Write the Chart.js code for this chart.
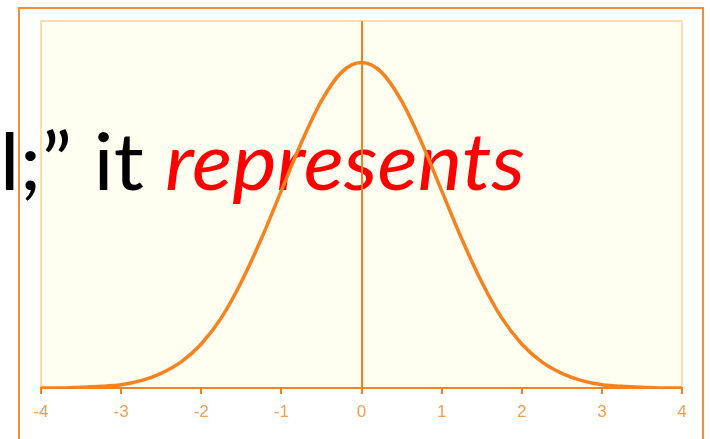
<!DOCTYPE html>
<html>
<head>
<meta charset="utf-8">
<style>
  html, body { margin: 0; padding: 0; background: #fff; }
</style>
</head>
<body>
<canvas id="myChart" width="710" height="439"></canvas>
<script src="https://cdn.jsdelivr.net/npm/chart.js@4/dist/chart.umd.min.js"></script>
<script>
// bell curve samples, read every quarter unit
const zValues = [-4, -3.75, -3.5, -3.25, -3, -2.75, -2.5, -2.25, -2, -1.75, -1.5, -1.25, -1, -0.75, -0.5, -0.25,
                 0, 0.25, 0.5, 0.75, 1, 1.25, 1.5, 1.75, 2, 2.25, 2.5, 2.75, 3, 3.25, 3.5, 3.75, 4];
const density = [0.000, 0.000, 0.001, 0.002, 0.004, 0.009, 0.018, 0.032, 0.054, 0.086, 0.130, 0.183, 0.242, 0.301, 0.352, 0.387,
                 0.399, 0.387, 0.352, 0.301, 0.242, 0.183, 0.130, 0.086, 0.054, 0.032, 0.018, 0.009, 0.004, 0.002, 0.001, 0.000, 0.000];
const xTicks = [-4, -3, -2, -1, 0, 1, 2, 3, 4];
const captionPlain = 'l;\u201D it';
const captionEmph = 'represents';

const orange = '#f5821f';
const lightOrange = '#f59d4e';
const paleBorder = '#ffdcac';
const plotBg = '#fffef0';

const ctx = document.getElementById('myChart').getContext('2d');

// stretch a piece of text so its ink spans exactly left..right
function drawFitted(c, text, font, color, left, right, baseline) {
  c.save();
  c.font = font;
  c.textBaseline = 'alphabetic';
  const m = c.measureText(text);
  const inkW = m.actualBoundingBoxLeft + m.actualBoundingBoxRight;
  c.translate(left, baseline);
  c.scale((right - left) / inkW, 1);
  c.fillStyle = color;
  c.fillText(text, m.actualBoundingBoxLeft, 0);
  c.restore();
}

const backdrop = {
  id: 'backdrop',
  beforeDraw(chart) {
    const c = chart.ctx;
    const a = chart.chartArea;
    c.save();
    c.fillStyle = '#fff';
    c.fillRect(0, 0, chart.width, chart.height);
    // outer frame
    c.strokeStyle = '#f68b3c';
    c.lineWidth = 2;
    c.strokeRect(19, 8, 684, 500);
    // plot area
    c.fillStyle = plotBg;
    c.fillRect(a.left, a.top, a.right - a.left, a.bottom - a.top);
    c.strokeStyle = paleBorder;
    c.lineWidth = 2;
    c.beginPath();
    c.moveTo(a.left, a.bottom);
    c.lineTo(a.left, a.top);
    c.lineTo(a.right, a.top);
    c.lineTo(a.right, a.bottom);
    c.stroke();
    c.restore();
    drawFitted(c, captionPlain, '80px Lato', '#000', 5, 143, 190);
    drawFitted(c, captionEmph, 'italic 80px Lato', '#ff0000', 167, 524, 190);
  }
};

const myChart = new Chart(ctx, {
  type: 'line',
  data: {
    datasets: [{
      data: zValues.map((z, i) => ({ x: z, y: density[i] })),
      borderColor: orange,
      borderWidth: 3.5,
      pointRadius: 0,
      cubicInterpolationMode: 'monotone',
      fill: false
    }]
  },
  options: {
    responsive: false,
    animation: false,
    layout: { padding: { left: 41, right: 28, top: 21, bottom: 0 } },
    scales: {
      x: {
        type: 'linear',
        min: -4,
        max: 4,
        afterBuildTicks: (s) => { s.ticks = xTicks.map(v => ({ value: v })); },
        afterFit: (s) => { s.height = 51; },
        grid: {
          color: (c) => (c.tick && c.tick.value === 0) ? orange : 'rgba(0,0,0,0)',
          lineWidth: 2,
          tickColor: orange,
          tickLength: 6
        },
        border: { display: true, color: orange, width: 2 },
        ticks: {
          color: lightOrange,
          padding: 8,
          maxRotation: 0,
          font: { family: "'Liberation Sans', Arial, sans-serif", size: 17 }
        }
      },
      y: {
        display: false,
        min: 0,
        max: 0.45
      }
    },
    plugins: {
      legend: { display: false },
      tooltip: { enabled: false }
    }
  },
  plugins: [backdrop]
});
</script>
</body>
</html>
